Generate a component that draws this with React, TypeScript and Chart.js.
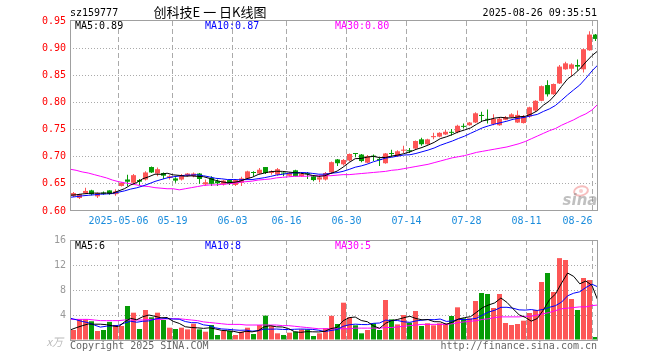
import React, { useEffect, useRef } from "react";
import { Chart, registerables } from "chart.js";

Chart.register(...registerables);

// ---------------- data ----------------
const OPEN = [
  0.628, 0.624, 0.633, 0.638, 0.627, 0.634, 0.638, 0.631, 0.646, 0.658,
  0.652, 0.657, 0.658, 0.681, 0.669, 0.670, 0.661, 0.660, 0.658, 0.665,
  0.664, 0.669, 0.649, 0.661, 0.655, 0.649, 0.657, 0.648, 0.652, 0.660,
  0.671, 0.669, 0.681, 0.670, 0.667, 0.670, 0.665, 0.675, 0.664, 0.670,
  0.664, 0.658, 0.658, 0.671, 0.695, 0.686, 0.693, 0.706, 0.704, 0.689,
  0.702, 0.696, 0.688, 0.706, 0.701, 0.711, 0.712, 0.715, 0.732, 0.723,
  0.736, 0.737, 0.741, 0.745, 0.745, 0.756, 0.758, 0.763, 0.777, 0.769,
  0.760, 0.758, 0.768, 0.773, 0.763, 0.762, 0.774, 0.785, 0.803, 0.832,
  0.815, 0.835, 0.861, 0.862, 0.869, 0.861, 0.896, 0.925,
];
const HIGH = [
  0.635, 0.632, 0.643, 0.639, 0.634, 0.636, 0.638, 0.640, 0.653, 0.667,
  0.668, 0.659, 0.673, 0.682, 0.680, 0.671, 0.666, 0.662, 0.668, 0.670,
  0.671, 0.670, 0.658, 0.664, 0.658, 0.657, 0.658, 0.659, 0.663, 0.674,
  0.673, 0.679, 0.681, 0.675, 0.679, 0.671, 0.671, 0.676, 0.670, 0.672,
  0.665, 0.665, 0.672, 0.691, 0.696, 0.696, 0.706, 0.706, 0.705, 0.703,
  0.704, 0.699, 0.707, 0.713, 0.712, 0.720, 0.716, 0.730, 0.735, 0.733,
  0.744, 0.745, 0.749, 0.751, 0.759, 0.761, 0.764, 0.782, 0.783, 0.787,
  0.778, 0.772, 0.775, 0.780, 0.785, 0.777, 0.792, 0.804, 0.831, 0.841,
  0.835, 0.869, 0.875, 0.872, 0.879, 0.899, 0.931, 0.926,
];
const LOW = [
  0.626, 0.622, 0.632, 0.629, 0.624, 0.630, 0.630, 0.628, 0.645, 0.646,
  0.650, 0.648, 0.656, 0.670, 0.664, 0.659, 0.658, 0.652, 0.656, 0.663,
  0.662, 0.650, 0.647, 0.646, 0.646, 0.647, 0.648, 0.646, 0.646, 0.659,
  0.664, 0.668, 0.668, 0.667, 0.665, 0.664, 0.664, 0.664, 0.663, 0.659,
  0.655, 0.653, 0.656, 0.668, 0.683, 0.684, 0.691, 0.699, 0.690, 0.688,
  0.692, 0.683, 0.687, 0.700, 0.700, 0.707, 0.707, 0.713, 0.720, 0.722,
  0.732, 0.736, 0.740, 0.739, 0.743, 0.752, 0.757, 0.762, 0.765, 0.761,
  0.758, 0.757, 0.767, 0.772, 0.762, 0.761, 0.772, 0.783, 0.802, 0.811,
  0.814, 0.834, 0.860, 0.848, 0.859, 0.855, 0.895, 0.913,
];
const CLOSE = [
  0.633, 0.631, 0.637, 0.631, 0.633, 0.632, 0.632, 0.636, 0.652, 0.654,
  0.666, 0.654, 0.671, 0.671, 0.677, 0.665, 0.664, 0.656, 0.666, 0.669,
  0.669, 0.659, 0.653, 0.650, 0.651, 0.656, 0.650, 0.657, 0.660, 0.673,
  0.670, 0.676, 0.670, 0.673, 0.677, 0.669, 0.670, 0.664, 0.668, 0.668,
  0.657, 0.662, 0.670, 0.690, 0.688, 0.694, 0.705, 0.705, 0.692, 0.701,
  0.700, 0.694, 0.706, 0.705, 0.710, 0.713, 0.710, 0.729, 0.723, 0.732,
  0.738, 0.744, 0.746, 0.744, 0.757, 0.755, 0.763, 0.780, 0.775, 0.768,
  0.770, 0.770, 0.773, 0.778, 0.777, 0.774, 0.791, 0.803, 0.830, 0.815,
  0.834, 0.866, 0.872, 0.870, 0.866, 0.898, 0.925, 0.917,
];
// volume, unit: 万
const VOLUME = [
  1.6, 3.3, 3.3, 3.0, 1.44, 1.6, 2.9, 2.4, 2.24, 5.44,
  4.37, 1.76, 4.8, 3.63, 4.37, 3.2, 1.97, 1.76, 1.97, 1.7,
  2.6, 1.7, 1.33, 2.4, 0.8, 1.44, 1.44, 0.8, 1.33, 1.97,
  0.96, 2.4, 3.9, 2.24, 1.07, 0.8, 1.17, 1.33, 1.7, 1.7,
  0.64, 1.07, 1.87, 3.87, 2.56, 5.97, 3.63, 2.35, 1.07, 1.6,
  2.67, 1.6, 6.4, 3.3, 2.5, 4.0, 2.77, 4.64, 2.24, 2.67,
  2.35, 2.67, 2.67, 3.84, 5.23, 3.47, 3.47, 6.24, 7.52, 7.36,
  5.12, 7.36, 2.72, 2.4, 2.56, 3.09, 4.32, 4.8, 9.28, 10.72,
  7.68, 13.1, 12.8, 6.56, 4.8, 9.92, 9.6, 0.48,
];
// the nine sessions just before the window (estimated from where the MA lines start)
const PRIOR_CLOSE = [0.620, 0.622, 0.621, 0.623, 0.622, 0.627, 0.629, 0.626, 0.630];
const PRIOR_VOLUME = [5.8, 6.1, 4.9, 5.3, 4.9, 1.5, 1.7, 1.6, 1.6];
// MA30 lines
const MA30_PRICE = [
  0.677, 0.675, 0.672, 0.670, 0.667, 0.664, 0.661, 0.657, 0.654, 0.652,
  0.650, 0.648, 0.646, 0.645, 0.643, 0.642, 0.641, 0.641, 0.639, 0.641,
  0.643, 0.645, 0.647, 0.648, 0.648, 0.649, 0.650, 0.651, 0.653, 0.654,
  0.655, 0.657, 0.658, 0.659, 0.661, 0.662, 0.663, 0.664, 0.664, 0.664,
  0.665, 0.665, 0.665, 0.665, 0.666, 0.667, 0.667, 0.668, 0.669, 0.670,
  0.671, 0.672, 0.673, 0.675, 0.676, 0.678, 0.680, 0.682, 0.684, 0.686,
  0.689, 0.692, 0.695, 0.698, 0.700, 0.702, 0.705, 0.708, 0.710, 0.712,
  0.714, 0.716, 0.718, 0.721, 0.724, 0.728, 0.733, 0.738, 0.743, 0.748,
  0.752, 0.758, 0.763, 0.768, 0.774, 0.779, 0.786, 0.797,
];
const MA30_VOLUME = [
  3.3, 3.3, 3.3, 3.3, 3.2, 3.1, 3.1, 3.1, 3.1, 3.2,
  3.2, 3.2, 3.2, 3.3, 3.3, 3.3, 3.4, 3.4, 3.4, 3.3,
  3.2, 3.1, 2.9, 2.8, 2.7, 2.6, 2.5, 2.5, 2.5, 2.4,
  2.4, 2.4, 2.4, 2.4, 2.4, 2.3, 2.3, 2.2, 2.1, 2.0,
  1.9, 1.8, 1.8, 1.8, 1.8, 1.8, 1.8, 1.9, 1.9, 1.9,
  1.9, 1.9, 2.0, 2.0, 2.1, 2.2, 2.3, 2.4, 2.5, 2.5,
  2.5, 2.5, 2.5, 2.6, 2.8, 2.9, 3.0, 3.1, 3.3, 3.4,
  3.6, 3.7, 3.7, 3.7, 3.7, 3.8, 3.8, 4.0, 4.2, 4.4,
  4.7, 5.0, 5.1, 5.2, 5.3, 5.3, 5.5, 5.6,
];
const DATE_INDEX = [8, 17, 27, 36, 46, 56, 66, 76, 87];
const DATE_LABELS = ["2025-05-06", "05-19", "06-03", "06-16", "06-30", "07-14", "07-28", "08-11", "08-26"];
const PRICE_TICKS = [0.6, 0.65, 0.7, 0.75, 0.8, 0.85, 0.9, 0.95];
const VOLUME_TICKS = [0, 4, 8, 12, 16];
const PRICE_LEGEND = ["MA5:0.89", "MA10:0.87", "MA30:0.80"];
const VOLUME_LEGEND = ["MA5:6", "MA10:8", "MA30:5"];
const CODE = "sz159777";
const TITLE = "创科技E 一 日K线图";
const STAMP = "2025-08-26 09:35:51";
const VOLUME_UNIT = "x万";
const COPYRIGHT = "Copyright 2025 SINA.COM";
const URL_TEXT = "http://finance.sina.com.cn";

// ---------------- styles ----------------
const MONO = "'DejaVu Sans Mono', monospace";
const RED = "#fd5656";
const GREEN = "#069c06";
const GRID = "#aaaaaa";
const FRAME = "#a0a0a0";
const MA_COLORS = ["#000000", "#0000ff", "#ff00ff"];

const N = CLOSE.length;
const X_MIN = -0.5 - 1 / 12;
const X_MAX = N - 0.5 - 1 / 12;

function movingAverage(values: number[], prior: number[], n: number): number[] {
  const all = prior.concat(values);
  return values.map((_, i) => {
    const end = prior.length + i;
    let s = 0;
    for (let k = end - n + 1; k <= end; k++) s += all[Math.max(k, 0)];
    return s / n;
  });
}

const isUp = (i: number) => CLOSE[i] >= OPEN[i];
const candleColor = (i: number) => (isUp(i) ? RED : GREEN);
// MA lines span the whole plot width, border to border, as in the original
const lineX = (i: number) => X_MIN + (i * (X_MAX - X_MIN)) / (N - 1);
const linePts = (arr: number[]) => arr.map((y, i) => ({ x: lineX(i), y }));

function xScale(showLabels: boolean, height: number): any {
  return {
    type: "linear",
    min: X_MIN,
    max: X_MAX,
    offset: false,
    afterBuildTicks: (s: any) => {
      s.ticks = DATE_INDEX.map((i) => ({ value: i - 0.5 }));
    },
    afterFit: (s: any) => {
      s.height = height;
    },
    ticks: {
      display: showLabels,
      autoSkip: false,
      maxRotation: 0,
      minRotation: 0,
      padding: 4,
      color: "#1a8cdc",
      font: { family: MONO, size: 10 },
      callback: (_v: any, idx: number) => {
        const l = DATE_LABELS[idx];
        return idx === DATE_LABELS.length - 1 ? l + " ".repeat(l.length) : l;
      },
    },
    grid: { color: GRID, lineWidth: 1, drawTicks: false, offset: false },
    border: { display: false, dash: [5, 3] },
  };
}

function yScale(ticks: number[], fmt: (v: number) => string, color: string): any {
  return {
    min: ticks[0],
    max: ticks[ticks.length - 1],
    afterBuildTicks: (s: any) => {
      s.ticks = ticks.map((v) => ({ value: v }));
    },
    afterFit: (s: any) => {
      s.width = 70;
    },
    ticks: {
      padding: 4,
      color,
      font: { family: MONO, size: 10 },
      callback: (v: any) => fmt(Number(v)),
    },
    grid: {
      drawTicks: false,
      lineWidth: 1,
      color: (c: any) => (c.index === 0 || c.index === ticks.length - 1 ? "rgba(0,0,0,0)" : GRID),
    },
    border: { display: false, dash: [1, 2] },
  };
}

function drawLegend(ctx: CanvasRenderingContext2D, labels: string[], y: number) {
  const xs = [75, 205, 335];
  ctx.font = `10px ${MONO}`;
  ctx.textAlign = "left";
  ctx.textBaseline = "middle";
  labels.forEach((t, i) => {
    ctx.fillStyle = MA_COLORS[i];
    ctx.fillText(t, xs[i], y);
  });
}

const pricePlugin = {
  id: "priceDecor",
  beforeDatasetsDraw(chart: any) {
    const { ctx, chartArea: a } = chart;
    ctx.save();
    // sina watermark
    const cx = a.right - 17;
    const cy = a.bottom - 20;
    ctx.strokeStyle = "rgba(235,110,110,0.45)";
    ctx.fillStyle = "rgba(235,110,110,0.35)";
    ctx.lineWidth = 2;
    ctx.beginPath();
    ctx.ellipse(cx, cy, 7, 4.5, -0.2, 0, Math.PI * 2);
    ctx.stroke();
    ctx.beginPath();
    ctx.arc(cx, cy, 2, 0, Math.PI * 2);
    ctx.fill();
    ctx.fillStyle = "rgba(140,140,140,0.55)";
    ctx.font = "italic bold 15px 'DejaVu Sans', sans-serif";
    ctx.textAlign = "center";
    ctx.textBaseline = "middle";
    ctx.fillText("sina", cx - 1, cy + 10);
    ctx.restore();
  },
  afterDraw(chart: any) {
    const { ctx, chartArea: a } = chart;
    ctx.save();
    ctx.strokeStyle = FRAME;
    ctx.lineWidth = 1;
    ctx.strokeRect(a.left + 0.5, a.top - 0.5, a.right - a.left - 1, a.bottom - a.top);
    ctx.fillStyle = "#000";
    ctx.font = `10px ${MONO}`;
    ctx.textBaseline = "middle";
    ctx.textAlign = "left";
    ctx.fillText(CODE, 70, 13);
    ctx.textAlign = "right";
    ctx.fillText(STAMP, 597, 13);
    ctx.font = "13px 'Noto Sans CJK SC', sans-serif";
    ctx.textAlign = "center";
    ctx.fillText(TITLE, 210, 12.5);
    drawLegend(ctx, PRICE_LEGEND, a.top + 5.5);
    ctx.restore();
  },
};

const volumePlugin = {
  id: "volumeDecor",
  afterDraw(chart: any) {
    const { ctx, chartArea: a } = chart;
    ctx.save();
    ctx.strokeStyle = FRAME;
    ctx.lineWidth = 1;
    ctx.strokeRect(a.left + 0.5, a.top + 0.5, a.right - a.left - 1, a.bottom - a.top);
    drawLegend(ctx, VOLUME_LEGEND, a.top + 6.5);
    ctx.textBaseline = "middle";
    ctx.font = `10px ${MONO}`;
    ctx.fillStyle = "#666";
    ctx.textAlign = "left";
    ctx.fillText(COPYRIGHT, 70, a.bottom + 6);
    ctx.textAlign = "right";
    ctx.fillText(URL_TEXT, 597, a.bottom + 6);
    ctx.fillStyle = "#bbb";
    ctx.font = "italic 11px 'Noto Sans CJK SC', sans-serif";
    ctx.fillText(VOLUME_UNIT, 63, a.bottom + 2);
    ctx.restore();
  },
};

export default function App() {
  const priceRef = useRef<HTMLCanvasElement | null>(null);
  const volRef = useRef<HTMLCanvasElement | null>(null);

  useEffect(() => {
    const ma5 = movingAverage(CLOSE, PRIOR_CLOSE, 5);
    const ma10 = movingAverage(CLOSE, PRIOR_CLOSE, 10);
    const vma5 = movingAverage(VOLUME, PRIOR_VOLUME, 5);
    const vma10 = movingAverage(VOLUME, PRIOR_VOLUME, 10);
    const colors = CLOSE.map((_, i) => candleColor(i));

    const lineDs = (label: string, data: number[], color: string) => ({
      type: "line" as const,
      label,
      data: linePts(data),
      borderColor: color,
      borderWidth: 1,
      pointRadius: 0,
      tension: 0,
      fill: false,
      order: 0,
    });

    const priceChart = new Chart(priceRef.current as HTMLCanvasElement, {
      type: "bar",
      data: {
        datasets: [
          lineDs("MA5", ma5, MA_COLORS[0]),
          lineDs("MA10", ma10, MA_COLORS[1]),
          lineDs("MA30", MA30_PRICE, MA_COLORS[2]),
          {
            type: "bar",
            label: "body",
            data: CLOSE.map((c, i) => ({ x: i, y: [Math.min(OPEN[i], c), Math.max(OPEN[i], c)] })),
            backgroundColor: colors,
            barThickness: 5,
            minBarLength: 1,
            grouped: false,
            borderWidth: 0,
            inflateAmount: 0,
            order: 1,
          } as any,
          {
            type: "bar",
            label: "wick",
            data: CLOSE.map((_, i) => ({ x: i, y: [LOW[i], HIGH[i]] })),
            backgroundColor: colors,
            barThickness: 1,
            grouped: false,
            borderWidth: 0,
            inflateAmount: 0,
            order: 2,
          } as any,
        ],
      },
      options: {
        responsive: false,
        animation: false,
        events: [],
        layout: { padding: { top: 21, right: 62, bottom: 0, left: 0 } },
        plugins: { legend: { display: false }, tooltip: { enabled: false } },
        scales: {
          x: xScale(true, 19),
          y: yScale(PRICE_TICKS, (v) => v.toFixed(2), "#ff0000"),
        },
      } as any,
      plugins: [pricePlugin],
    });

    const volChart = new Chart(volRef.current as HTMLCanvasElement, {
      type: "bar",
      data: {
        datasets: [
          lineDs("MA5", vma5, MA_COLORS[0]),
          lineDs("MA10", vma10, MA_COLORS[1]),
          lineDs("MA30", MA30_VOLUME, MA_COLORS[2]),
          {
            type: "bar",
            label: "volume",
            data: VOLUME.map((v, i) => ({ x: i, y: v })),
            backgroundColor: colors,
            barThickness: 5,
            grouped: false,
            borderWidth: 0,
            inflateAmount: 0,
            order: 1,
          } as any,
        ],
      },
      options: {
        responsive: false,
        animation: false,
        events: [],
        layout: { padding: { top: 10, right: 62, bottom: 0, left: 0 } },
        plugins: { legend: { display: false }, tooltip: { enabled: false } },
        scales: {
          x: xScale(false, 20),
          y: yScale(VOLUME_TICKS, (v) => (v === 0 ? "" : String(v)), "#999999"),
        },
      } as any,
      plugins: [volumePlugin],
    });

    return () => {
      priceChart.destroy();
      volChart.destroy();
    };
  }, []);

  return (
    <div style={{ position: "absolute", left: 0, top: 0, width: 660, height: 360, background: "#fff" }}>
      <canvas ref={priceRef} width={660} height={230} style={{ position: "absolute", left: 0, top: 0 }} />
      <canvas ref={volRef} width={660} height={130} style={{ position: "absolute", left: 0, top: 230 }} />
    </div>
  );
}
